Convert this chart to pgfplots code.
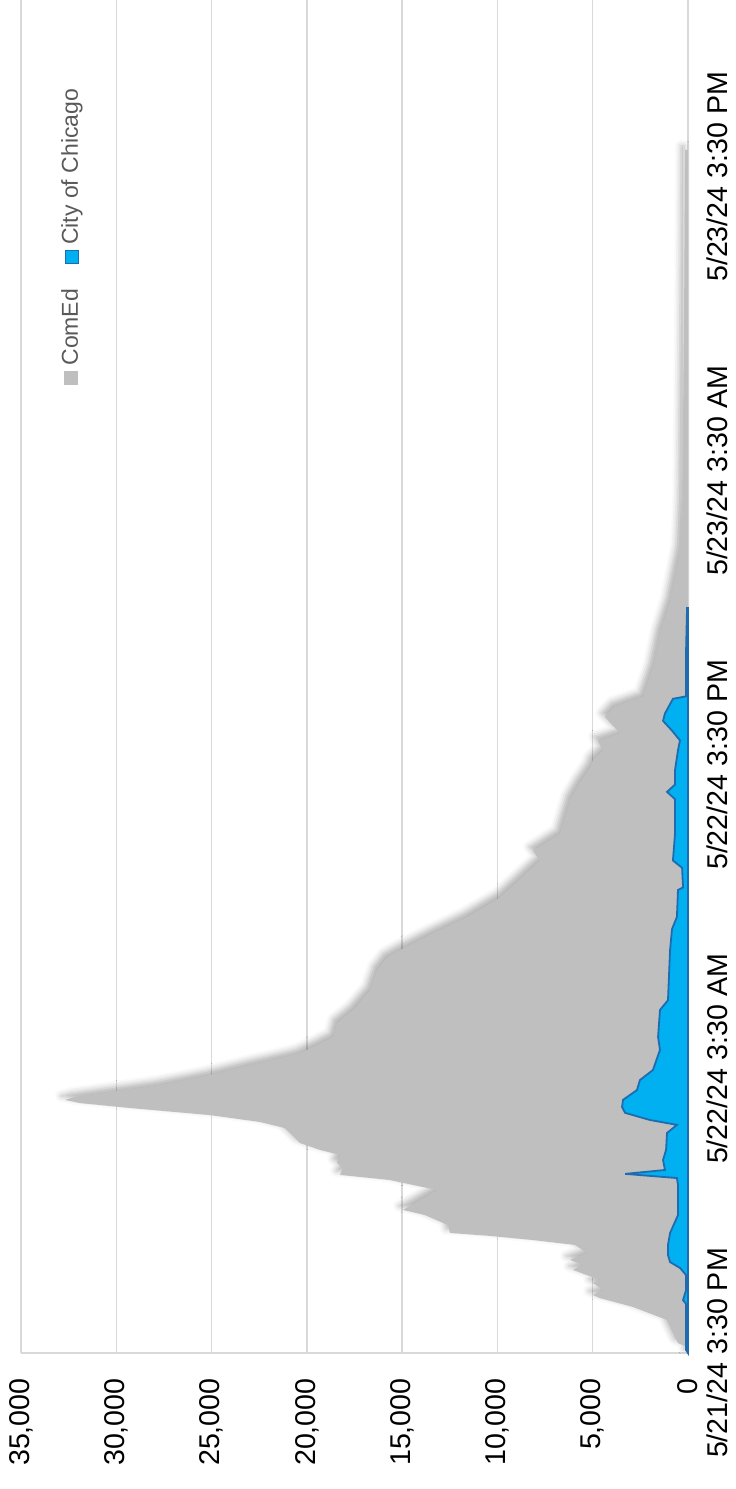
\documentclass[border=0pt]{standalone}
\usepackage{fontspec}
\setmainfont{Liberation Sans}
\usepackage{pgfplots}
\pgfplotsset{compat=1.18}
\usetikzlibrary{shadows.blur}
\definecolor{comed}{HTML}{BFBFBF}
\definecolor{chi}{HTML}{00B0F0}
\definecolor{chiline}{HTML}{1F6BB0}
\definecolor{gridc}{HTML}{D9D9D9}
\definecolor{legtext}{HTML}{595959}
\begin{document}
\begin{tikzpicture}
\useasboundingbox (-10.5pt,-68pt) rectangle (357pt,676.5pt);
\begin{axis}[
  scale only axis, width=333.5pt, height=676.5pt,
  x dir=reverse, xmin=0, xmax=35000, ymin=0, ymax=55.22,
  enlargelimits=false,
  axis line style={draw=none},
  xtick={0,5000,...,35000},
  scaled x ticks=false,
  xmajorgrids, grid style={gridc, line width=0.75pt},
  major tick length=0pt,
  ytick={0,12,24,36,48},
  yticklabels={5/21/24 3:30 PM,5/22/24 3:30 AM,5/22/24 3:30 PM,5/23/24 3:30 AM,5/23/24 3:30 PM},
  yticklabel pos=right,
  extra y ticks={0}, extra y tick labels={},
  extra y tick style={ymajorgrids=true},
  /pgf/number format/.cd, 1000 sep={,}, assume math mode=true,
  /pgfplots/.cd,
  tick label style={font=\fontsize{14.3}{16}\selectfont, text=black},
  xticklabel style={rotate=90, anchor=east, inner sep=0pt},
  xticklabel shift=12.5pt,
  yticklabel style={rotate=90, anchor=north, inner sep=0pt},
  yticklabel shift=9pt,
  clip=false,
]
\addplot[fill=comed, draw=none,
  blur shadow={shadow xshift=-2pt, shadow yshift=2pt, shadow blur radius=3pt, shadow opacity=30}] coordinates {
(0,0) (50,0.24) (525,0.41) (1100,1.35) (2890,1.88) (4620,2.24) (4985,2.37) (4460,2.57)
(4985,2.86) (4620,2.98) (6030,3.39) (5510,3.59) (6190,3.80) (5300,4.08) (5930,4.41)
(8130,4.61) (10390,4.78) (12490,4.90) (12590,5.22) (13800,5.63) (14950,5.84) (14060,6.24)
(13170,6.65) (15640,7.06) (18260,7.27) (18100,7.55) (18420,7.76) (18260,8.08) (19310,8.29)
(20360,8.57) (20780,8.90) (21150,9.18) (22460,9.43) (25080,9.71) (29280,10.0) (31900,10.2)
(32690,10.33) (32160,10.45) (30330,10.65) (27700,10.94) (25080,11.35) (22980,11.76)
(21410,12.04) (20360,12.24) (19680,12.49) (18630,12.90) (18420,13.47) (17580,14.0)
(16690,14.8) (16320,15.63) (15790,16.16) (15110,16.45) (13380,17.14) (11600,17.8)
(9860,18.6) (7770,20.1) (8130,20.5) (6720,21.2) (6190,22.6) (5670,23.3) (5140,23.9)
(4985,24.2) (4460,24.6) (4720,25.0) (3570,25.3) (4355,25.96) (3830,26.4) (2360,26.8)
(1840,28.0) (1470,29.4) (945,30.7) (420,32.8) (300,34.8) (250,38.9) (200,43) (150,49.1) (0,49.1)
} -- cycle;
\addplot[fill=chi, draw=chiline, line width=0.9pt] coordinates {
(0,0) (100,0.12) (100,2.0) (260,2.16) (100,2.57) (100,3.18) (420,3.47) (940,3.71) (1050,4.0)
(1050,4.41) (940,4.9) (525,5.63) (525,6.86) (580,7.14) (3300,7.31) (1210,7.47) (1310,7.88)
(1150,8.29) (1100,8.98) (580,9.31) (2000,9.51) (3300,9.8) (3460,10.04) (3410,10.33)
(2680,10.73) (2520,11.14) (1840,11.55) (1470,12.37) (1570,12.9) (1470,14.0) (1050,14.4)
(940,16.45) (840,17.3) (580,17.8) (525,18.9) (260,19.0) (310,19.8) (790,20.1) (680,21.2)
(680,22.6) (1100,22.9) (680,23.2) (680,23.8) (525,24.6) (420,25.0) (840,25.4) (1310,25.8)
(1210,26.1) (790,26.7) (100,26.8) (100,28.7) (50,30.4) (0,30.4)
} -- cycle;
\node[rotate=90, anchor=center, inner sep=0pt, font=\fontsize{11.5}{13}\selectfont, text=legtext]
  at (axis description cs:0.0765,0.825)
  {\textcolor{comed}{\rule{7pt}{7pt}}\hspace{2.5pt}ComEd\hspace{12.5pt}{\setlength{\fboxsep}{0pt}\setlength{\fboxrule}{0.6pt}\fcolorbox{chiline}{chi}{\rule{0pt}{5.8pt}\hspace{5.8pt}}}\hspace{2.5pt}City of Chicago};
\end{axis}
\end{tikzpicture}
\end{document}
